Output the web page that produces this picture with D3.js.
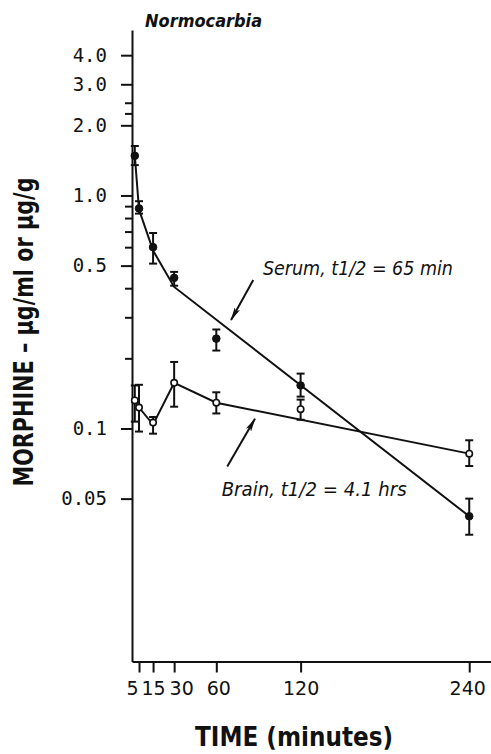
<!DOCTYPE html>
<html>
<head>
<meta charset="utf-8">
<script src="https://cdn.jsdelivr.net/npm/d3@7"></script>
<style>
  body { margin: 0; background: #fff; }
</style>
</head>
<body>
<div id="chart"></div>
<script>
// sampling times (minutes)
const times = [2, 5, 15, 30, 60, 120, 240];

// serum morphine, ug/ml (mean and error bar ends)
const serumMean = [1.48, 0.88, 0.60, 0.443, 0.243, 0.153, 0.042];
const serumHi   = [1.63, 0.945, 0.69, 0.47, 0.266, 0.172, 0.050];
const serumLo   = [1.35, 0.836, 0.51, 0.41, 0.216, 0.137, 0.035];

// brain morphine, ug/g
const brainMean = [0.132, 0.123, 0.106, 0.157, 0.129, 0.121, 0.078];
const brainHi   = [0.153, 0.154, 0.112, 0.193, 0.143, 0.133, 0.089];
const brainLo   = [0.107, 0.097, 0.095, 0.124, 0.116, 0.109, 0.069];

// drawn curves (early points joined, then the fitted elimination line)
const serumFitT = [2, 5, 15, 30, 240];
const serumFitV = [1.48, 0.87, 0.58, 0.405, 0.042];
const brainFitT = [2, 5, 15, 30, 60, 240];
const brainFitV = [0.132, 0.123, 0.104, 0.157, 0.129, 0.078];

// axes
const xTicks = [5, 15, 30, 60, 120, 240];
const xLabelNudge = [-7, 0, 7, 2, 0, -2];
const yMajor = [4, 3, 2, 1, 0.5, 0.1, 0.05];
const yMajorLabels = ["4.0", "3.0", "2.0", "1.0", "0.5", "0.1", "0.05"];
const yMinor = [2.5, 2.25, 0.9, 0.8, 0.7, 0.6, 0.4, 0.3, 0.2];

let w = 491;
let h = 754;

let svg = d3.select("#chart")
    .append("svg")
    .attr("width", w)
    .attr("height", h)

let x = d3.scaleLinear().domain([0, 255.5]).range([132, 491]);
let y = d3.scaleLog().domain([0.01, 5.13]).range([661.5, 30]);

let ink = "#111";

// arrowhead
svg.append("defs").append("marker")
    .attr("id", "head")
    .attr("viewBox", "0 0 14 6")
    .attr("refX", 13)
    .attr("refY", 3)
    .attr("markerWidth", 14)
    .attr("markerHeight", 6)
    .attr("markerUnits", "userSpaceOnUse")
    .attr("orient", "auto")
    .append("path")
    .attr("d", "M0,0 L14,3 L0,6 L3,3 Z")
    .attr("fill", ink)

// y axis, major ticks
let yAxis = svg.append("g")
    .attr("transform", "translate(" + x(0) + ",0)")
    .call(d3.axisLeft(y)
        .tickValues(yMajor)
        .tickFormat((d, i) => yMajorLabels[i])
        .tickSize(11)
        .tickSizeOuter(0)
        .tickPadding(14))
yAxis.selectAll("line, path").attr("stroke", ink).attr("stroke-width", 2)
yAxis.selectAll("text")
    .attr("fill", ink)
    .style("font-family", "'DejaVu Sans Mono', monospace")
    .style("font-size", "19px")

// minor ticks
let yMinorAxis = svg.append("g")
    .attr("transform", "translate(" + x(0) + ",0)")
    .call(d3.axisLeft(y).tickValues(yMinor).tickFormat("").tickSize(7))
yMinorAxis.select(".domain").remove()
yMinorAxis.selectAll("line").attr("stroke", ink).attr("stroke-width", 2)

// x axis
let xAxis = svg.append("g")
    .attr("transform", "translate(0," + y(0.01) + ")")
    .call(d3.axisBottom(x)
        .tickValues(xTicks)
        .tickSize(11)
        .tickSizeOuter(0)
        .tickPadding(9))
xAxis.selectAll("line, path").attr("stroke", ink).attr("stroke-width", 2)
xAxis.selectAll("text")
    .attr("fill", ink)
    .attr("dx", (d, i) => xLabelNudge[i])
    .style("font-family", "'DejaVu Sans', sans-serif")
    .style("font-size", "19px")

// axis titles
svg.append("text")
    .attr("x", 294)
    .attr("y", 746)
    .attr("text-anchor", "middle")
    .attr("textLength", 198)
    .attr("lengthAdjust", "spacingAndGlyphs")
    .attr("fill", ink)
    .style("font-family", "'DejaVu Sans', sans-serif")
    .style("font-weight", "bold")
    .style("font-size", "27px")
    .text("TIME  (minutes)")

svg.append("text")
    .attr("transform", "translate(33,332) rotate(-90)")
    .attr("text-anchor", "middle")
    .attr("textLength", 309)
    .attr("lengthAdjust", "spacingAndGlyphs")
    .attr("fill", ink)
    .style("font-family", "'DejaVu Sans', sans-serif")
    .style("font-weight", "bold")
    .style("font-size", "27px")
    .text("MORPHINE – μg/ml or μg/g")

svg.append("text")
    .attr("x", x(9.3))
    .attr("y", 27)
    .attr("textLength", 117)
    .attr("lengthAdjust", "spacingAndGlyphs")
    .attr("fill", ink)
    .style("font-family", "'DejaVu Sans', sans-serif")
    .style("font-weight", "bold")
    .style("font-style", "italic")
    .style("font-size", "18px")
    .text("Normocarbia")

// curves
let line = d3.line()
    .x(d => x(d[0]))
    .y(d => y(d[1]))

svg.append("path")
    .datum(serumFitT.map((t, i) => [t, serumFitV[i]]))
    .attr("d", line)
    .attr("fill", "none")
    .attr("stroke", ink)
    .attr("stroke-width", 2)

svg.append("path")
    .datum(brainFitT.map((t, i) => [t, brainFitV[i]]))
    .attr("d", line)
    .attr("fill", "none")
    .attr("stroke", ink)
    .attr("stroke-width", 2)

// error bars and points
function drawSeries(mean, hi, lo, filled) {
    let rows = times.map((t, i) => ({ t: t, m: mean[i], hi: hi[i], lo: lo[i] }))
    let g = svg.append("g")

    let bars = g.selectAll(".bar").data(rows).enter().append("g").attr("class", "bar")
    bars.append("line")
        .attr("x1", d => x(d.t)).attr("x2", d => x(d.t))
        .attr("y1", d => y(d.hi)).attr("y2", d => y(d.lo))
    bars.append("line")
        .attr("x1", d => x(d.t) - 4).attr("x2", d => x(d.t) + 4)
        .attr("y1", d => y(d.hi)).attr("y2", d => y(d.hi))
    bars.append("line")
        .attr("x1", d => x(d.t) - 4).attr("x2", d => x(d.t) + 4)
        .attr("y1", d => y(d.lo)).attr("y2", d => y(d.lo))
    bars.selectAll("line").attr("stroke", ink).attr("stroke-width", 2)

    g.selectAll("circle").data(rows).enter().append("circle")
        .attr("cx", d => x(d.t))
        .attr("cy", d => y(d.m))
        .attr("r", filled ? 3.8 : 3.2)
        .attr("fill", filled ? ink : "#fff")
        .attr("stroke", ink)
        .attr("stroke-width", filled ? 1 : 1.6)
}

drawSeries(serumMean, serumHi, serumLo, true)
drawSeries(brainMean, brainHi, brainLo, false)

// annotations
function annotate(tail, tip, textAt, label, len) {
    svg.append("line")
        .attr("x1", x(tail[0])).attr("y1", y(tail[1]))
        .attr("x2", x(tip[0])).attr("y2", y(tip[1]))
        .attr("stroke", ink)
        .attr("stroke-width", 2)
        .attr("marker-end", "url(#head)")
    svg.append("text")
        .attr("x", x(textAt[0]))
        .attr("y", y(textAt[1]))
        .attr("textLength", len)
        .attr("lengthAdjust", "spacingAndGlyphs")
        .attr("fill", ink)
        .style("font-family", "'DejaVu Sans', sans-serif")
        .style("font-style", "italic")
        .style("font-size", "20px")
        .text(label)
}

annotate([86.3, 0.434], [70.5, 0.292], [93.2, 0.456], "Serum, t1/2 = 65 min", 190)
annotate([67.8, 0.0686], [87.5, 0.110], [63.8, 0.0511], "Brain, t1/2 = 4.1 hrs", 185)
</script>
</body>
</html>
